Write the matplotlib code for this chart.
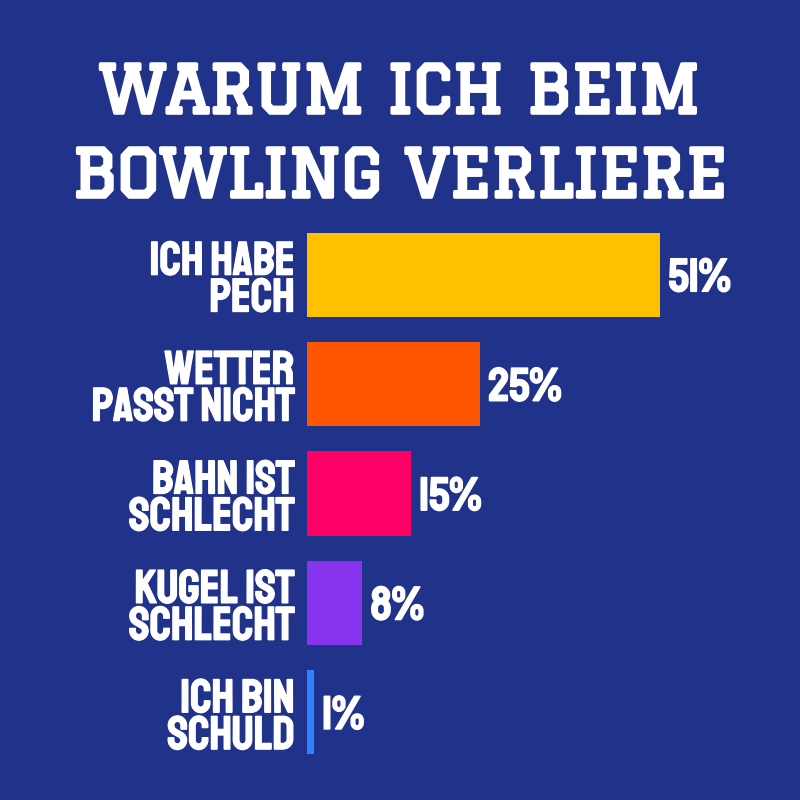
import matplotlib.pyplot as plt
import matplotlib.patheffects as pe

# daten
kategorien = ['ICH HABE\nPECH', 'WETTER\nPASST NICHT', 'BAHN IST\nSCHLECHT',
              'KUGEL IST\nSCHLECHT', 'ICH BIN\nSCHULD']
werte = [51, 25, 15, 8, 1]
farben = ['#FFC000', '#FF5500', '#FF0066', '#8833EE', '#3380FF']
titel = 'WARUM ICH BEIM\nBOWLING VERLIERE'

hintergrund = '#21328A'
schrift = 'Staatliches'
dick = [pe.withStroke(linewidth=0.9, foreground='white')]

fig = plt.figure(figsize=(8, 8), dpi=100, facecolor=hintergrund)

# titel
fig.text(0.5, 1 - 131 / 800, titel, ha='center', va='center', color='white',
         fontsize=47, fontfamily='Graduate', linespacing=1.75,
         path_effects=[pe.withStroke(linewidth=2.6, foreground='white')])

ax = fig.add_axes([307 / 800, 1 - 767 / 800, 493 / 800, 547 / 800])
ax.set_facecolor(hintergrund)

y = range(len(werte))
ax.barh(y, werte, height=0.77, color=farben)
ax.set_xlim(0, 71.2)
ax.set_ylim(4.5, -0.5)

ax.set_yticks(list(y))
ax.set_yticklabels(kategorien, color='white', fontsize=34, fontfamily=schrift,
                   linespacing=1.1)
for t in ax.get_yticklabels():
    t.set_path_effects(dick)
ax.tick_params(axis='y', length=0, pad=9)
ax.set_xticks([])
for s in ax.spines.values():
    s.set_visible(False)

for i, w in enumerate(werte):
    ax.text(w + 1.2, i, f'{w}%', va='center', ha='left', color='white',
            fontsize=34, fontfamily=schrift, path_effects=dick)

fig.savefig('out.png', dpi=100, facecolor=hintergrund)
